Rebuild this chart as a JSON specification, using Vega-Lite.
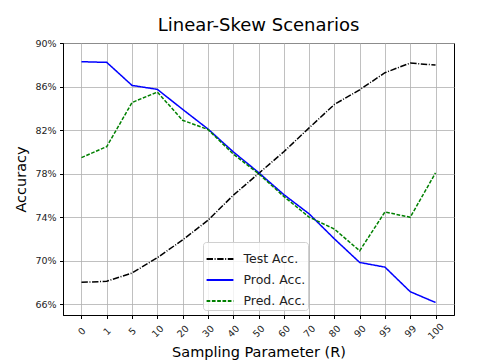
{
  "$schema": "https://vega.github.io/schema/vega-lite/v6.json",
  "width": 391,
  "height": 272,
  "autosize": "none",
  "padding": {"left": 63, "top": 43, "right": 50, "bottom": 45},
  "background": "white",
  "title": {"text": "Linear-Skew Scenarios", "fontSize": 18, "font": "DejaVu Sans", "fontWeight": "normal", "color": "black", "offset": 3},
  "data": {"values": [
    {"R": 0, "series": "Test Acc.", "acc": 68.0},
    {"R": 1, "series": "Test Acc.", "acc": 68.1},
    {"R": 5, "series": "Test Acc.", "acc": 68.86},
    {"R": 10, "series": "Test Acc.", "acc": 70.27},
    {"R": 20, "series": "Test Acc.", "acc": 71.9},
    {"R": 30, "series": "Test Acc.", "acc": 73.7},
    {"R": 40, "series": "Test Acc.", "acc": 76.0},
    {"R": 50, "series": "Test Acc.", "acc": 78.0},
    {"R": 60, "series": "Test Acc.", "acc": 80.0},
    {"R": 70, "series": "Test Acc.", "acc": 82.2},
    {"R": 80, "series": "Test Acc.", "acc": 84.35},
    {"R": 90, "series": "Test Acc.", "acc": 85.7},
    {"R": 95, "series": "Test Acc.", "acc": 87.27},
    {"R": 99, "series": "Test Acc.", "acc": 88.16},
    {"R": 100, "series": "Test Acc.", "acc": 87.97},
    {"R": 0, "series": "Prod. Acc.", "acc": 88.28},
    {"R": 1, "series": "Prod. Acc.", "acc": 88.22},
    {"R": 5, "series": "Prod. Acc.", "acc": 86.1},
    {"R": 10, "series": "Prod. Acc.", "acc": 85.74},
    {"R": 20, "series": "Prod. Acc.", "acc": 83.9},
    {"R": 30, "series": "Prod. Acc.", "acc": 82.1},
    {"R": 40, "series": "Prod. Acc.", "acc": 80.0},
    {"R": 50, "series": "Prod. Acc.", "acc": 78.1},
    {"R": 60, "series": "Prod. Acc.", "acc": 76.07},
    {"R": 70, "series": "Prod. Acc.", "acc": 74.3},
    {"R": 80, "series": "Prod. Acc.", "acc": 72.0},
    {"R": 90, "series": "Prod. Acc.", "acc": 69.83},
    {"R": 95, "series": "Prod. Acc.", "acc": 69.4},
    {"R": 99, "series": "Prod. Acc.", "acc": 67.14},
    {"R": 100, "series": "Prod. Acc.", "acc": 66.15},
    {"R": 0, "series": "Pred. Acc.", "acc": 79.47},
    {"R": 1, "series": "Pred. Acc.", "acc": 80.48},
    {"R": 5, "series": "Pred. Acc.", "acc": 84.53},
    {"R": 10, "series": "Pred. Acc.", "acc": 85.49},
    {"R": 20, "series": "Pred. Acc.", "acc": 82.9},
    {"R": 30, "series": "Pred. Acc.", "acc": 82.05},
    {"R": 40, "series": "Pred. Acc.", "acc": 79.8},
    {"R": 50, "series": "Pred. Acc.", "acc": 78.0},
    {"R": 60, "series": "Pred. Acc.", "acc": 75.9},
    {"R": 70, "series": "Pred. Acc.", "acc": 74.0},
    {"R": 80, "series": "Pred. Acc.", "acc": 72.9},
    {"R": 90, "series": "Pred. Acc.", "acc": 70.9},
    {"R": 95, "series": "Pred. Acc.", "acc": 74.47},
    {"R": 99, "series": "Pred. Acc.", "acc": 73.98},
    {"R": 100, "series": "Pred. Acc.", "acc": 78.07}
  ]},
  "mark": {"type": "line", "strokeWidth": 1.5},
  "encoding": {
    "x": {
      "field": "R", "type": "ordinal",
      "scale": {"type": "point", "padding": 0.73},
      "axis": {
        "title": "Sampling Parameter (R)", "titleFontSize": 14.5, "titleFont": "DejaVu Sans", "titleFontWeight": "normal", "titleColor": "black",
        "titleY": 37, "titleBaseline": "middle",
        "labelAngle": -45, "labelFontSize": 9.5, "labelFont": "DejaVu Sans", "labelColor": "#222", "labelPadding": 12.5,
        "labelAlign": "center", "labelBaseline": "middle",
        "grid": true, "gridColor": "#b0b0b0", "gridWidth": 0.8,
        "domainColor": "black", "tickColor": "black", "tickSize": 3.5
      }
    },
    "y": {
      "field": "acc", "type": "quantitative",
      "scale": {"domain": [65, 90], "nice": false, "zero": false},
      "axis": {
        "title": "Accuracy", "titleFontSize": 14.5, "titleFont": "DejaVu Sans", "titleFontWeight": "normal", "titleColor": "black", "titlePadding": 6,
        "values": [66, 70, 74, 78, 82, 86, 90], "labelExpr": "datum.value + '%'",
        "labelFontSize": 9.5, "labelFont": "DejaVu Sans", "labelColor": "#222", "labelPadding": 3.5,
        "grid": true, "gridColor": "#b0b0b0", "gridWidth": 0.8,
        "domainColor": "black", "tickColor": "black", "tickSize": 3.5
      }
    },
    "color": {
      "field": "series", "type": "nominal",
      "scale": {"domain": ["Test Acc.", "Prod. Acc.", "Pred. Acc."], "range": ["black", "blue", "green"]},
      "legend": {
        "title": null, "orient": "none", "legendX": 140, "legendY": 199,
        "symbolType": "stroke", "symbolSize": 720, "symbolStrokeWidth": 2,
        "labelFontSize": 12.5, "labelFont": "DejaVu Sans", "labelColor": "#222", "labelOffset": 9,
        "rowPadding": -1.5, "padding": 2.5, "fillColor": "rgba(255,255,255,0.8)", "strokeColor": "#d0d0d0", "cornerRadius": 3
      }
    },
    "strokeDash": {
      "field": "series", "type": "nominal",
      "scale": {"domain": ["Test Acc.", "Prod. Acc.", "Pred. Acc."], "range": [[6.4, 1.6, 1, 1.6], [1, 0], [3.7, 1.6]]},
      "legend": null
    }
  },
  "config": {"view": {"stroke": "black", "strokeWidth": 1}}
}
